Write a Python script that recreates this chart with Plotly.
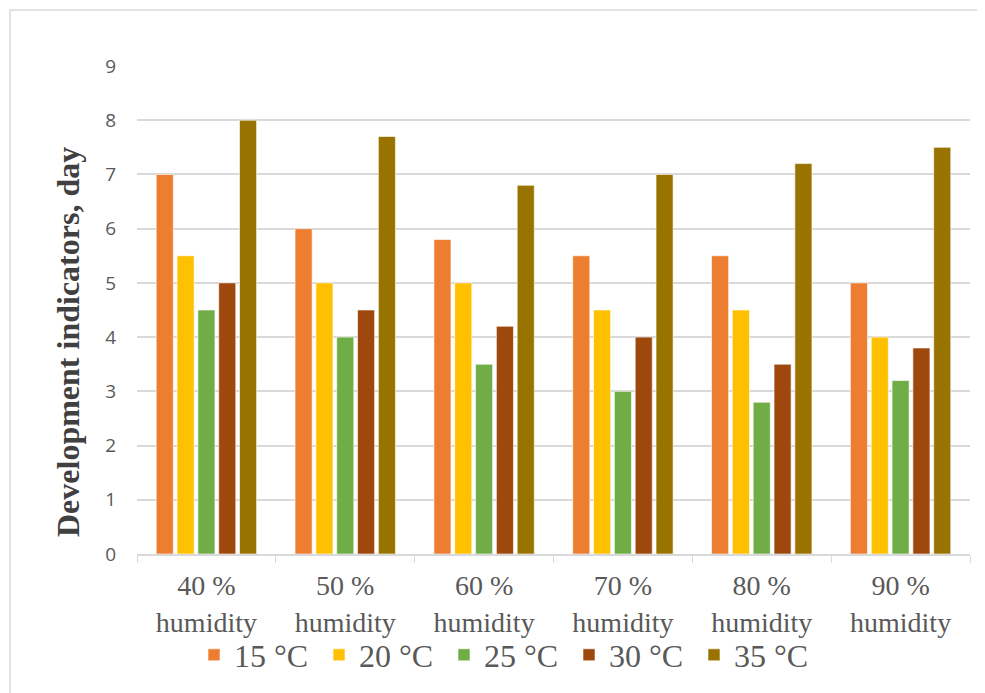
import plotly.graph_objects as go

categories = ["40 %<br>humidity", "50 %<br>humidity", "60 %<br>humidity",
              "70 %<br>humidity", "80 %<br>humidity", "90 %<br>humidity"]
series_names = ["15 °C", "20 °C", "25 °C", "30 °C", "35 °C"]
t15 = [7.0, 6.0, 5.8, 5.5, 5.5, 5.0]
t20 = [5.5, 5.0, 5.0, 4.5, 4.5, 4.0]
t25 = [4.5, 4.0, 3.5, 3.0, 2.8, 3.2]
t30 = [5.0, 4.5, 4.2, 4.0, 3.5, 3.8]
t35 = [8.0, 7.7, 6.8, 7.0, 7.2, 7.5]
colors = ["#ED7D31", "#FFC000", "#70AD47", "#9E480E", "#997300"]
y_title = "Development indicators, day"

W, H = 977, 685
L, R, T, B = 129, 15, 58, 139
PW, PH = W - L - R, H - T - B

fig = go.Figure()
for name, vals, col in zip(series_names, [t15, t20, t25, t30, t35], colors):
    fig.add_trace(go.Bar(x=categories, y=vals, name=name,
                         marker=dict(color=col, line=dict(color="white", width=0.6))))

fig.update_layout(
    width=W, height=H,
    paper_bgcolor="white", plot_bgcolor="white",
    margin=dict(l=L, r=R, t=T, b=B, autoexpand=False),
    barmode="group", bargap=0.25, bargroupgap=0.18,
    legend=dict(orientation="h", x=(186 - L) / PW, xanchor="left",
                y=-101 / PH, yanchor="middle", bgcolor="rgba(0,0,0,0)",
                font=dict(family="Liberation Serif", size=32, color="#595959"),
                traceorder="normal", itemwidth=30,
                entrywidth=80, entrywidthmode="pixels"),
    showlegend=True,
    shapes=[dict(type="rect", xref="paper", yref="paper",
                 x0=(2 - L) / PW, x1=1 + 40 / PW, y0=-(B + 40) / PH, y1=1 + (T - 2) / PH,
                 line=dict(color="#D9D9D9", width=1.5))],
    annotations=[dict(text="<b>" + y_title + "</b>", textangle=-90,
                      xref="paper", yref="paper",
                      x=(60 - L) / PW, xanchor="center",
                      y=(H - B - 334) / PH, yanchor="middle", showarrow=False,
                      font=dict(family="Liberation Serif", size=32, color="#404040"))],
)
fig.update_xaxes(
    showline=True, linecolor="#D9D9D9", linewidth=1.5,
    ticks="outside", tickson="boundaries", ticklen=7, tickcolor="#D9D9D9",
    ticklabelstandoff=6,
    tickfont=dict(family="Liberation Serif", size=28, color="#595959"),
    showgrid=False,
)
fig.update_yaxes(
    range=[0, 9], dtick=1, showgrid=True, gridcolor="#D9D9D9", gridwidth=1.5,
    zeroline=False, showline=False, ticks="", ticklabelstandoff=20,
    tickfont=dict(family="Open Sans", size=19, color="#595959"),
)
fig.write_html("out.html")
